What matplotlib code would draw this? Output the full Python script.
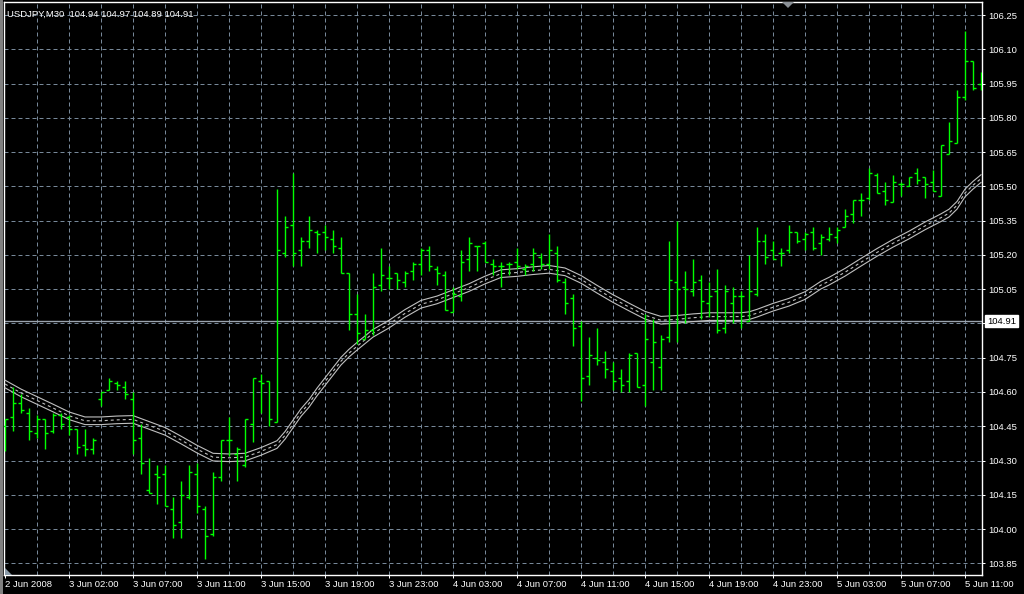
import matplotlib
matplotlib.use("Agg")
import matplotlib.pyplot as plt
from matplotlib.patches import Polygon, Rectangle
import numpy as np

# ---------------- data ----------------
symbol_title = "USDJPY,M30  104.94 104.97 104.89 104.91"
current_price = 104.91

opens = [104.45, 104.49, 104.55, 104.51, 104.42, 104.48, 104.43, 104.50, 104.49, 104.44,
         104.37, 104.35, 104.57, 104.61, 104.64, 104.62, 104.57, 104.40, 104.17, 104.24,
         104.24, 104.09, 104.03, 104.14, 104.24, 104.09, 103.98, 104.23, 104.39, 104.33,
         104.28, 104.46, 104.65, 104.65, 104.47, 105.21, 105.33, 105.22, 105.26, 105.30,
         105.30, 105.27, 105.23, 105.12, 104.94, 104.83, 104.87, 105.07, 105.10, 105.12,
         105.08, 105.13, 105.16, 105.22, 105.14, 105.11, 104.95, 105.02, 105.18, 105.24,
         105.25, 105.16, 105.15, 105.16, 105.17, 105.14, 105.16, 105.19, 105.16, 105.21,
         105.08, 105.01, 104.89, 104.67, 104.75, 104.73, 104.69, 104.66, 104.65, 104.77,
         104.63, 104.73, 104.71, 104.84, 105.08, 105.06, 105.04, 105.09, 104.99, 105.04,
         104.88, 104.99, 105.02, 104.91, 105.03, 105.26, 105.22, 105.21, 105.22, 105.30,
         105.27, 105.30, 105.25, 105.27, 105.28, 105.32, 105.38, 105.44, 105.45, 105.55,
         105.48, 105.43, 105.51, 105.50, 105.56, 105.54, 105.52, 105.46, 105.64, 105.69,
         105.89, 106.05, 105.95]
highs = [104.48, 104.62, 104.59, 104.53, 104.50, 104.48, 104.51, 104.51, 104.50, 104.44,
         104.44, 104.40, 104.60, 104.66, 104.65, 104.65, 104.60, 104.46, 104.31, 104.28,
         104.28, 104.14, 104.21, 104.28, 104.29, 104.10, 104.25, 104.39, 104.49, 104.36,
         104.48, 104.66, 104.68, 104.65, 105.49, 105.37, 105.56, 105.28, 105.37, 105.31,
         105.33, 105.31, 105.28, 105.12, 105.03, 104.94, 105.12, 105.23, 105.15, 105.12,
         105.13, 105.17, 105.23, 105.24, 105.15, 105.13, 105.06, 105.22, 105.28, 105.24,
         105.26, 105.18, 105.17, 105.17, 105.23, 105.16, 105.23, 105.21, 105.29, 105.24,
         105.10, 105.03, 104.91, 104.84, 104.88, 104.78, 104.73, 104.70, 104.77, 104.77,
         104.94, 104.92, 104.85, 105.26, 105.35, 105.13, 105.18, 105.11, 105.08, 105.14,
         105.07, 105.06, 105.04, 105.20, 105.32, 105.29, 105.26, 105.23, 105.33, 105.30,
         105.30, 105.32, 105.29, 105.32, 105.32, 105.40, 105.44, 105.47, 105.58, 105.56,
         105.52, 105.55, 105.52, 105.54, 105.58, 105.54, 105.57, 105.68, 105.78, 105.92,
         106.18, 106.05, 106.00]
lows = [104.34, 104.43, 104.51, 104.39, 104.40, 104.35, 104.42, 104.44, 104.41, 104.33,
        104.32, 104.33, 104.54, 104.61, 104.61, 104.57, 104.33, 104.24, 104.16, 104.11,
        104.10, 103.96, 103.96, 104.13, 104.07, 103.87, 103.97, 104.21, 104.32, 104.21,
        104.27, 104.38, 104.51, 104.45, 104.47, 105.19, 105.15, 105.15, 105.23, 105.21,
        105.22, 105.21, 105.12, 104.87, 104.81, 104.83, 104.85, 105.04, 105.05, 105.05,
        105.06, 105.09, 105.11, 105.13, 105.07, 104.96, 104.95, 105.00, 105.13, 105.13,
        105.17, 105.11, 105.06, 105.11, 105.14, 105.11, 105.13, 105.14, 105.14, 105.08,
        104.94, 104.80, 104.56, 104.63, 104.72, 104.66, 104.61, 104.60, 104.60, 104.62,
        104.54, 104.61, 104.61, 104.82, 104.82, 104.90, 105.02, 104.92, 104.93, 104.86,
        104.86, 104.90, 104.88, 104.91, 105.02, 105.16, 105.18, 105.15, 105.21, 105.25,
        105.22, 105.22, 105.20, 105.26, 105.25, 105.32, 105.34, 105.37, 105.44, 105.47,
        105.42, 105.43, 105.46, 105.50, 105.51, 105.45, 105.48, 105.46, 105.64, 105.69,
        105.88, 105.92, 105.92]
closes = [104.48, 104.55, 104.52, 104.43, 104.48, 104.42, 104.50, 104.46, 104.44, 104.36,
          104.35, 104.39, 104.60, 104.65, 104.63, 104.59, 104.39, 104.29, 104.16, 104.23,
          104.10, 104.02, 104.15, 104.25, 104.10, 103.97, 104.23, 104.39, 104.39, 104.35,
          104.48, 104.66, 104.64, 104.48, 105.22, 105.32, 105.21, 105.26, 105.31, 105.29,
          105.28, 105.24, 105.12, 104.94, 104.86, 104.87, 105.06, 105.11, 105.10, 105.09,
          105.12, 105.16, 105.22, 105.15, 105.12, 104.96, 105.03, 105.17, 105.25, 105.24,
          105.17, 105.15, 105.15, 105.16, 105.15, 105.15, 105.21, 105.16, 105.22, 105.09,
          104.99, 104.88, 104.66, 104.76, 104.74, 104.70, 104.65, 104.63, 104.76, 104.62,
          104.83, 104.82, 104.83, 105.09, 105.05, 105.05, 105.08, 105.00, 105.02, 104.87,
          105.04, 105.02, 105.02, 105.04, 105.26, 105.19, 105.18, 105.21, 105.30, 105.26,
          105.29, 105.23, 105.28, 105.29, 105.31, 105.37, 105.44, 105.44, 105.56, 105.47,
          105.44, 105.52, 105.51, 105.54, 105.53, 105.51, 105.48, 105.68, 105.70, 105.89,
          106.05, 105.93, 105.95]

# moving-average envelope (middle line read at these bars)
ma_bars = [0, 2, 4, 6, 8, 10, 12, 14, 16, 18, 20, 22, 24, 26, 28, 30, 32, 34, 35, 36,
           37, 38, 39, 40, 41, 42, 43, 44, 46, 48, 50, 52, 54, 56, 58, 60, 62, 64, 66,
           68, 70, 72, 74, 76, 78, 80, 82, 84, 86, 88, 90, 92, 93, 94, 96, 98, 100,
           102, 103, 105, 107, 109, 111, 113, 115, 117, 118, 119, 120, 121, 122]
ma_mid = [104.635, 104.596, 104.563, 104.530, 104.496, 104.474, 104.474, 104.478, 104.480,
          104.454, 104.428, 104.390, 104.350, 104.315, 104.312, 104.315, 104.340, 104.370,
          104.410, 104.460, 104.510, 104.550, 104.600, 104.645, 104.690, 104.735, 104.770,
          104.800, 104.857, 104.897, 104.944, 104.984, 105.003, 105.030, 105.057, 105.090,
          105.118, 105.123, 105.131, 105.137, 105.126, 105.093, 105.050, 105.009, 104.972,
          104.936, 104.914, 104.918, 104.925, 104.930, 104.930, 104.930, 104.934, 104.945,
          104.971, 104.993, 105.022, 105.068, 105.085, 105.124, 105.168, 105.211, 105.251,
          105.287, 105.327, 105.363, 105.383, 105.417, 105.471, 105.505, 105.534]
ma_envelope = 0.016

time_labels = ["2 Jun 2008", "3 Jun 02:00", "3 Jun 07:00", "3 Jun 11:00", "3 Jun 15:00",
               "3 Jun 19:00", "3 Jun 23:00", "4 Jun 03:00", "4 Jun 07:00", "4 Jun 11:00",
               "4 Jun 15:00", "4 Jun 19:00", "4 Jun 23:00", "5 Jun 03:00", "5 Jun 07:00",
               "5 Jun 11:00"]
price_ticks = [103.85, 104.00, 104.15, 104.30, 104.45, 104.60, 104.75, 104.90, 105.05,
               105.20, 105.35, 105.50, 105.65, 105.80, 105.95, 106.10, 106.25]

# ---------------- drawing ----------------
plt.rcParams['lines.scale_dashes'] = False
FONT = ['Liberation Sans', 'DejaVu Sans']
FS = 6.8
PX = 0.72  # one pixel in points at dpi 100

W, H = 1024, 594
fig = plt.figure(figsize=(W / 100, H / 100), dpi=100, facecolor='black')
ax = fig.add_axes([4 / W, (H - 575) / H, 978 / W, 573 / H])
ax.set_facecolor('black')

n = len(opens)
x = np.arange(n)

# grid
grid_col = '#778899'
for gx in range(4, n, 4):
    ax.axvline(gx, color=grid_col, lw=PX, linestyle=(0, (4 * PX, 3 * PX)), zorder=1)
for p in price_ticks:
    ax.axhline(p, color=grid_col, lw=PX, linestyle=(0, (4 * PX, 3 * PX)), zorder=1)

# current price line
ax.axhline(current_price, color='#9aa3ad', lw=1.0, zorder=2)

# MA envelope
mid = np.array(ma_mid)
ax.plot(ma_bars, mid * (1 + ma_envelope / 100), color='#c0c0c0', lw=0.8, zorder=3)
ax.plot(ma_bars, mid * (1 - ma_envelope / 100), color='#c0c0c0', lw=0.8, zorder=3)
ax.plot(ma_bars, mid, color='#c0c0c0', lw=0.8, linestyle=(0, (3 * PX, 3 * PX)), zorder=3)

# OHLC bars
green = '#00ff00'
ax.vlines(x, lows, highs, color=green, lw=1.0, zorder=4)
ax.hlines(opens, x - 0.35, x, color=green, lw=1.0, zorder=4)
ax.hlines(closes, x, x + 0.35, color=green, lw=1.0, zorder=4)

ax.set_xlim(-0.125, n - 1 + 0.125)
ax.set_ylim(103.799, 106.307)

for s in ax.spines.values():
    s.set_color('white')
    s.set_linewidth(1.0)

# right price axis (the current-price box hides the label nearest to it)
ax.yaxis.tick_right()
ax.set_yticks(price_ticks)
ylabels = ["" if abs(p - current_price) < 0.05 else f"{p:.2f}" for p in price_ticks]
ax.set_yticklabels(ylabels, fontsize=FS, family=FONT, color='white')
ax.tick_params(axis='y', colors='white', length=3 * PX, width=PX, pad=3 * PX)

# bottom time axis
ax.set_xticks(list(range(0, n, 8)))
ax.set_xticklabels(time_labels, fontsize=FS, family=FONT, color='white', ha='left')
ax.tick_params(axis='x', colors='white', length=3 * PX, width=PX, pad=1.5)

# title text
ax.text(3 / 978, 1 - 12 / 573, symbol_title, transform=ax.transAxes, color='white',
        fontsize=FS, family=FONT, va='center', ha='left', zorder=6)

# current price label
ax.text(1.0 + 5 / 978, current_price, f"{current_price:.2f}", transform=ax.get_yaxis_transform(),
        color='black', fontsize=FS, family=FONT, va='center', ha='left', zorder=6,
        bbox=dict(boxstyle='square,pad=0.18', fc='white', ec='white'), clip_on=False)

# chart shift marker and scroll marker
ax.add_patch(Polygon([[778 / 978, 1.0], [790 / 978, 1.0], [784 / 978, 1 - 6 / 573]],
                     closed=True, transform=ax.transAxes, fc='#8a9096', ec='none',
                     clip_on=False, zorder=6))
ax.add_patch(Polygon([[1 / 978, 0.0], [8 / 978, 0.0], [1 / 978, 7 / 573]],
                     closed=True, transform=ax.transAxes, fc='#8a9aa8', ec='none', zorder=6))

# window frame strip on the left
fig.patches.append(Rectangle((0, 0), 3 / W, 1, transform=fig.transFigure,
                             fc='#808080', ec='none'))

fig.savefig('out.png', dpi=100, facecolor='black')
